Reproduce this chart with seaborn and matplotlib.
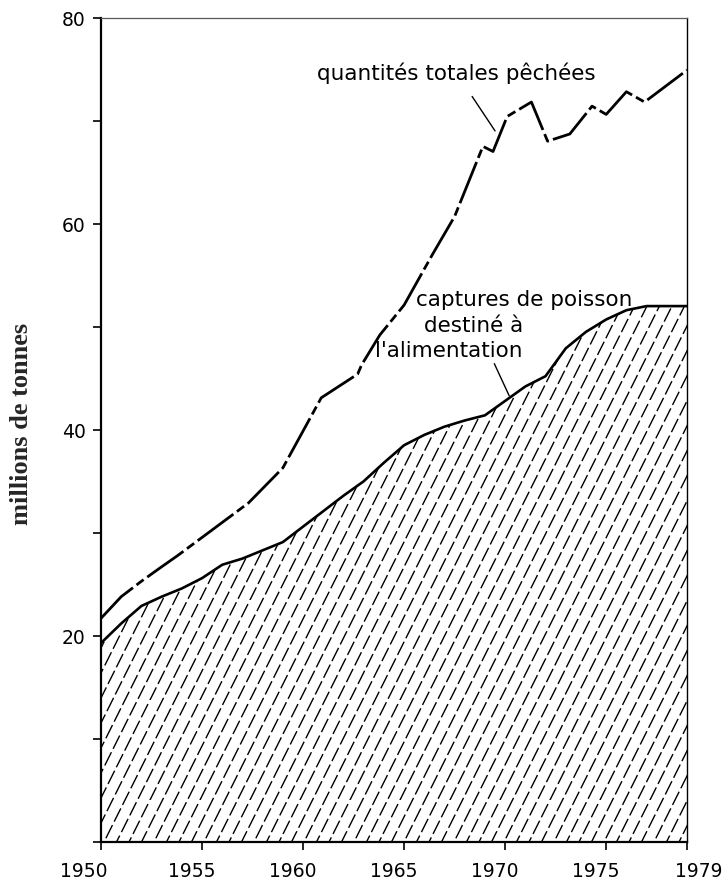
import numpy as np
import matplotlib
matplotlib.use('Agg')
import matplotlib.pyplot as plt
import matplotlib.hatch as mhatch
from matplotlib.path import Path
from matplotlib.ticker import MultipleLocator
from matplotlib.transforms import ScaledTranslation
import seaborn as sns

# Quantités totales pêchées (millions de tonnes)
annees_total = [1950, 1951, 1952, 1953, 1953.8, 1957.3, 1958.3, 1959, 1960.9,
                1962.7, 1962.9, 1963.8, 1965, 1966.4, 1967.5, 1968.9, 1969.4,
                1970.1, 1971.3, 1972.1, 1973.2, 1974.3, 1975, 1976, 1976.9, 1979]
total = [21.7, 23.8, 25.3, 26.7, 27.8, 32.9, 34.9, 36.3, 43.1,
         45.4, 46.3, 49.2, 52.1, 57.0, 60.7, 67.5, 67.0,
         70.4, 71.8, 68.0, 68.7, 71.4, 70.6, 72.8, 71.8, 74.9]

# Captures de poisson destiné à l'alimentation
annees = list(range(1950, 1980))
aliments = [19.3, 21.2, 22.9, 23.8, 24.6, 25.6, 26.9, 27.5, 28.3, 29.1,
            30.6, 32.1, 33.6, 35.0, 36.8, 38.5, 39.5, 40.3, 40.9, 41.4,
            42.8, 44.2, 45.2, 47.9, 49.5, 50.7, 51.6, 52.0, 52.0, 52.0]

xticks = [1950, 1955, 1960, 1965, 1970, 1975, 1979]
yticks = [20, 40, 60, 80]


# hachures raides en tirets (comme sur l'original imprimé)
class HachuresTirets(mhatch.HatchPatternBase):
    def __init__(self, hatch, density):
        self.n = 8 if '/' in hatch else 0
        self.n_tirets = 6
        self.num_vertices = (3 * self.n // 2 + 1) * (self.n_tirets + 1) * 2 if self.n else 0

    def set_vertices_and_codes(self, vertices, codes):
        per = 1.0 / self.n_tirets
        i = 0
        for m in range(-self.n // 2, self.n + 1):
            x0 = m / self.n
            phase = ((m % (self.n // 2)) * 0.37 % 1) * per
            for j in range(-1, self.n_tirets):
                y0 = j * per + phase
                y1 = y0 + 0.72 * per
                vertices[i] = (x0 + 0.5 * y0, y0)
                vertices[i + 1] = (x0 + 0.5 * y1, y1)
                codes[i] = Path.MOVETO
                codes[i + 1] = Path.LINETO
                i += 2


mhatch._hatch_types = [HachuresTirets]

sns.set_style('ticks')
plt.rcParams['font.family'] = ['DejaVu Sans']
plt.rcParams['hatch.linewidth'] = 1.0
plt.rcParams['hatch.color'] = 'black'

fig = plt.figure(figsize=(7.26, 8.795), dpi=100)
ax = fig.add_axes([0.1391, 0.0421, 0.8072, 0.9374])

ax.fill_between(annees, aliments, 0, facecolor='none', edgecolor='black',
                linewidth=0, hatch='/')
sns.lineplot(x=annees, y=aliments, ax=ax, color='black', linewidth=1.9)
sns.lineplot(x=annees_total, y=total, ax=ax, color='black', linewidth=2.0,
             linestyle=(0, (16, 1.6, 3.2, 1.6)))

ax.set_xlim(1950, 1979)
ax.set_ylim(0, 80)
ax.set_xticks(xticks)
ax.set_xticklabels([str(a) for a in xticks])
ax.set_yticks(yticks)
ax.yaxis.set_minor_locator(MultipleLocator(10))
ax.tick_params(axis='both', which='both', direction='out', length=6, width=1.2,
               color='black', labelsize=13.5, labelcolor='black')
ax.tick_params(axis='x', pad=8)
ax.tick_params(axis='y', pad=5)

# les années sont un peu décalées à gauche sur l'original
for lab in ax.get_xticklabels():
    dx = 12 if lab.get_text() == '1979' else (-17 if lab.get_text() == '1950' else -10)
    lab.set_transform(lab.get_transform() + ScaledTranslation(dx / 100, 0, fig.dpi_scale_trans))

for side in ['left', 'bottom']:
    ax.spines[side].set_linewidth(1.6)
    ax.spines[side].set_color('black')
ax.spines['right'].set_linewidth(1.0)
ax.spines['right'].set_color('black')
ax.spines['top'].set_linewidth(0.9)
ax.spines['top'].set_color('0.35')

ax.set_xlabel('')
ax.set_ylabel('millions de tonnes', family='Liberation Serif', fontweight='bold',
              fontsize=19)
ax.yaxis.set_label_coords(-0.116, 0.508)

police = dict(fontsize=15.5, color='black', family='DejaVu Sans')
ax.annotate('quantités totales pêchées', xy=(1969.5, 69.0), xytext=(1967.6, 74.6),
            ha='center', va='center', **police,
            arrowprops=dict(arrowstyle='-', color='black', lw=1.0,
                            shrinkA=8, shrinkB=0))
ax.text(1965.6, 52.6, 'captures de poisson', ha='left', va='center', **police)
ax.text(1966.0, 50.1, 'destiné à', ha='left', va='center', **police)
ax.annotate("l'alimentation", xy=(1970.2, 43.3), xytext=(1963.55, 47.7),
            ha='left', va='center', **police,
            arrowprops=dict(arrowstyle='-', color='black', lw=1.0,
                            shrinkA=0, shrinkB=0, relpos=(0.8, 0.0)))

fig.savefig('out.png', dpi=100, facecolor='white')
